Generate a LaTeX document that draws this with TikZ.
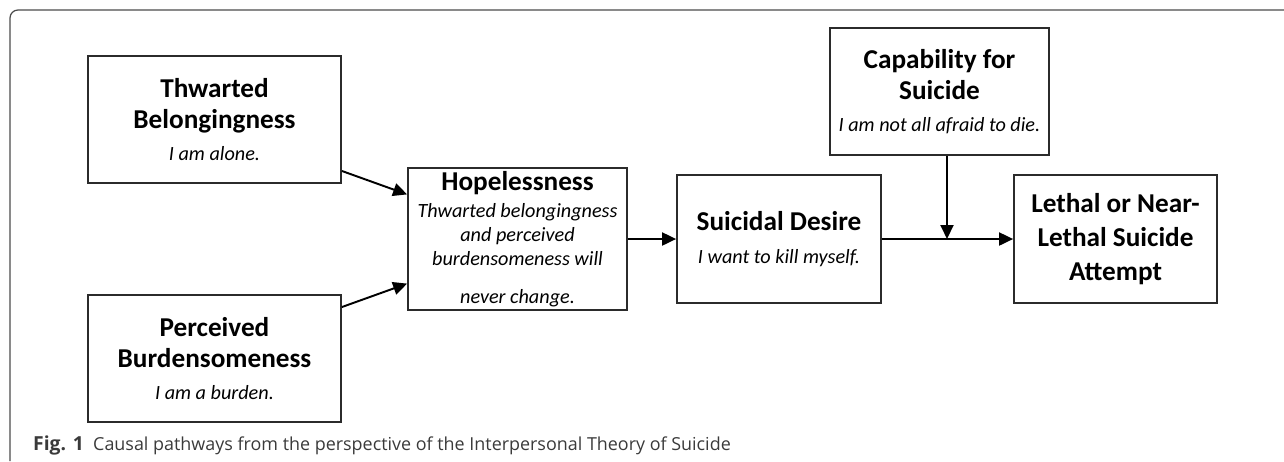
\documentclass[tikz,border=0pt]{standalone}
\usepackage{fontspec}
\setmainfont{Carlito}
\newfontfamily\capfont{Open Sans}
\usetikzlibrary{arrows.meta}
\definecolor{boxline}{HTML}{2B2B2B}
\definecolor{captext}{HTML}{3A3A3A}
\newcommand{\headtxt}[1]{{\fontsize{15.5}{18.5}\selectfont\bfseries #1}}
\newcommand{\quotetxt}[1]{{\fontsize{11.5}{13.6}\selectfont\itshape #1}}

\begin{document}
\begin{tikzpicture}[x=0.02cm,y=-0.02cm,
	box/.style 2 args={draw=boxline,line width=1pt,minimum width=#1*0.02cm,minimum height=#2*0.02cm,inner sep=0pt,align=center,font=\fontsize{15.5}{17.8}\selectfont},
	arr/.style={-{Triangle[length=0.28cm,width=0.26cm]},line width=1.1pt}]
	\useasboundingbox (0,0) rectangle (1284,461);
	\draw[boxline!85,line width=0.7pt,rounded corners=0.16cm] (10,461) -- (10,10) -- (1284,10);
	\node[box={253}{127}] (tb) at (214.5,119.5) {\headtxt{Thwarted}\\\headtxt{Belongingness}\\\quotetxt{I am alone.}};
	\node[box={253}{127}] (pb) at (214.5,358.5) {\headtxt{Perceived}\\\headtxt{Burdensomeness}\\\quotetxt{I am a burden.}};
	\node[box={219}{142},font=\fontsize{11.5}{13.6}\selectfont] (hope) at (517.5,239) {\headtxt{Hopelessness}\\[2pt]\quotetxt{Thwarted belongingness}\\\quotetxt{and perceived}\\\quotetxt{burdensomeness will}\\[8pt]\quotetxt{never change.}};
	\node[box={204}{128}] (desire) at (779,239) {\headtxt{Suicidal Desire}\\[1pt]\quotetxt{I want to kill myself.}};
	\node[box={219}{127}] (cap) at (939.5,91.5) {\headtxt{Capability for}\\\headtxt{Suicide}\\\quotetxt{I am not all afraid to die.}};
	\node[box={203}{128},font=\fontsize{15.5}{19.3}\selectfont] (lethal) at (1115.5,239) {\headtxt{Lethal or Near-}\\\headtxt{Lethal Suicide}\\\headtxt{Attempt}};
	\coordinate (jn) at (947,239);
	\draw[arr] (tb.-22) -- (hope.158);
	\draw[arr] (pb.22) -- (hope.-158);
	\draw[arr] (hope) -- (desire);
	\draw[arr] (desire) -- (lethal);
	\draw[arr] (cap.south -| jn) -- (jn);
	\node[anchor=base west,font=\capfont\bfseries\fontsize{11}{13}\selectfont,text=captext] (figlbl) at (27,450) {Fig. 1};
	\node[anchor=base west,font=\capfont\fontsize{10.2}{12}\selectfont,text=captext] (captxt) at (87,450) {Causal pathways from the perspective of the Interpersonal Theory of Suicide};
\end{tikzpicture}
\end{document}
